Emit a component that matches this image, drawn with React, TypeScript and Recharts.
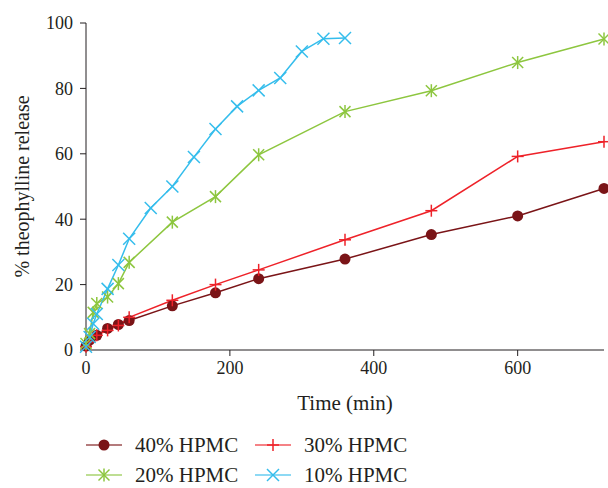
import React from "react";
import { LineChart, Line, XAxis, YAxis } from "recharts";

const t40 = [0, 5, 15, 30, 45, 60, 120, 180, 240, 360, 480, 600, 720];
const v40 = [1.2, 3, 4.5, 6.6, 7.8, 9, 13.5, 17.5, 21.8, 27.8, 35.3, 41, 49.4];

const t30 = [0, 5, 15, 30, 45, 60, 120, 180, 240, 360, 480, 600, 720];
const v30 = [1, 2.5, 4.5, 6, 7.5, 10, 15.2, 20, 24.5, 33.7, 42.6, 59.2, 63.7];

const t20 = [0, 5, 10, 15, 30, 45, 60, 120, 180, 240, 360, 480, 600, 720];
const v20 = [2, 5, 11.5, 14.2, 16.2, 20.3, 26.8, 39.1, 46.9, 59.7, 72.9, 79.3, 87.9, 95.1];

const t10 = [0, 5, 10, 15, 30, 45, 60, 90, 120, 150, 180, 210, 240, 270, 300, 330, 360];
const v10 = [1, 4, 8, 11, 18.7, 26, 34, 43.4, 50, 59, 67.6, 74.5, 79.4, 83.2, 91.3, 95.2, 95.4];

const xTicks = [0, 200, 400, 600];
const yTicks = [0, 20, 40, 60, 80, 100];

const labels = ["40% HPMC", "30% HPMC", "20% HPMC", "10% HPMC"];
const colors = ["#7a1417", "#ee2229", "#8dc63f", "#35bdec"];

const zip = (t: number[], v: number[]) => t.map((x, i) => ({ t: x, v: v[i] }));

const FONT = "'Liberation Serif', 'Times New Roman', serif";

type MarkerKind = "circle" | "plus" | "star" | "cross";

const drawMarker = (kind: MarkerKind, cx: number, cy: number, color: string, key?: any) => {
  if (kind === "circle") {
    return <circle key={key} cx={cx} cy={cy} r={5.5} fill={color} stroke="none" />;
  }
  if (kind === "plus") {
    const s = 6;
    return (
      <g key={key} stroke={color} strokeWidth={1.5}>
        <line x1={cx - s} y1={cy} x2={cx + s} y2={cy} />
        <line x1={cx} y1={cy - s} x2={cx} y2={cy + s} />
      </g>
    );
  }
  if (kind === "star") {
    const s = 5.5;
    return (
      <g key={key} stroke={color} strokeWidth={1.5}>
        <line x1={cx - s} y1={cy - s} x2={cx + s} y2={cy + s} />
        <line x1={cx - s} y1={cy + s} x2={cx + s} y2={cy - s} />
        <line x1={cx} y1={cy - s - 1} x2={cx} y2={cy + s + 1} />
      </g>
    );
  }
  const s = 6;
  return (
    <g key={key} stroke={color} strokeWidth={1.5}>
      <line x1={cx - s} y1={cy - s} x2={cx + s} y2={cy + s} />
      <line x1={cx - s} y1={cy + s} x2={cx + s} y2={cy - s} />
    </g>
  );
};

const kinds: MarkerKind[] = ["circle", "plus", "star", "cross"];

const dotFn = (kind: MarkerKind, color: string) => (p: any) =>
  drawMarker(kind, p.cx, p.cy, color, `${kind}-${p.index}`);

const series = [zip(t40, v40), zip(t30, v30), zip(t20, v20), zip(t10, v10)];

const LegendItem = ({ i }: { i: number }) => (
  <div style={{ display: "flex", alignItems: "center", width: 169, height: 20 }}>
    <svg width={36} height={16} style={{ display: "block" }}>
      <line x1={0} y1={8} x2={36} y2={8} stroke={colors[i]} strokeWidth={1.5} opacity={0.75} />
      {drawMarker(kinds[i], 18, 8, colors[i])}
    </svg>
    <span style={{ marginLeft: 13, fontFamily: FONT, fontSize: 21, color: "#231f20", lineHeight: "20px" }}>
      {labels[i]}
    </span>
  </div>
);

export default function App() {
  return (
    <div style={{ position: "absolute", left: 0, top: 0, width: 608, height: 488, background: "#fff" }}>
      <LineChart width={608} height={420} margin={{ top: 23, right: 4, bottom: 40, left: 26 }}>
        <XAxis
          type="number"
          dataKey="t"
          domain={[0, 720]}
          ticks={xTicks}
          allowDuplicatedCategory={false}
          height={30}
          stroke="#231f20"
          tickSize={6}
          tickMargin={5}
          tick={{ fill: "#231f20", fontSize: 18, fontFamily: FONT }}
          label={{
            value: "Time (min)",
            position: "bottom",
            offset: 15,
            style: { fill: "#231f20", fontSize: 21, fontFamily: FONT },
          }}
        />
        <YAxis
          type="number"
          domain={[0, 100]}
          ticks={yTicks}
          width={60}
          stroke="#231f20"
          tickSize={6}
          tickMargin={7}
          tick={{ fill: "#231f20", fontSize: 18, fontFamily: FONT }}
          label={(props: any) => {
            const vb = props.viewBox || {};
            const cy = (vb.y ?? 23) + (vb.height ?? 327) / 2;
            return (
              <text
                x={22}
                y={cy}
                transform={`rotate(-90, 22, ${cy})`}
                textAnchor="middle"
                dominantBaseline="central"
                style={{ fill: "#231f20", fontSize: 20, fontFamily: FONT }}
              >
                % theophylline release
              </text>
            );
          }}
        />
        {series.map((d, i) => (
          <Line
            key={labels[i]}
            data={d}
            dataKey="v"
            name={labels[i]}
            type="linear"
            stroke={colors[i]}
            strokeWidth={1.5}
            dot={dotFn(kinds[i], colors[i])}
            activeDot={false}
            isAnimationActive={false}
          />
        ))}
      </LineChart>
      <div style={{ position: "absolute", left: 86, top: 435, display: "flex", flexWrap: "wrap", width: 340, rowGap: 10 }}>
        {[0, 1, 2, 3].map((i) => (
          <LegendItem key={i} i={i} />
        ))}
      </div>
    </div>
  );
}
